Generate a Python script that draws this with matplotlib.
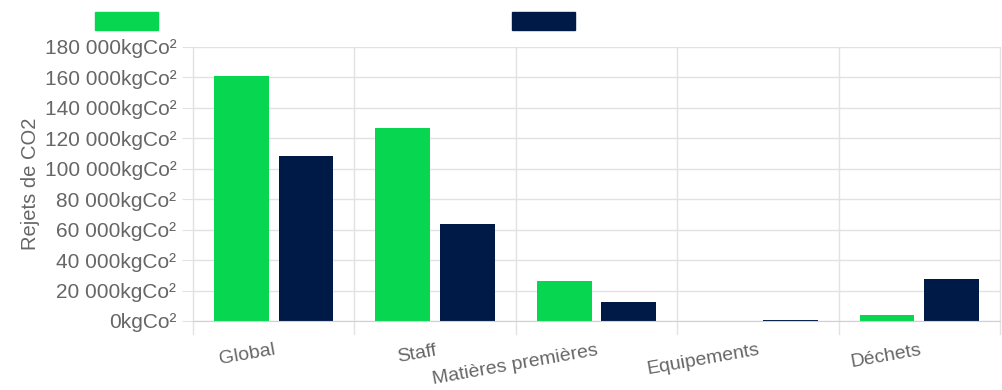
import matplotlib
matplotlib.use("Agg")
import matplotlib.pyplot as plt
import numpy as np
from matplotlib.patches import Rectangle
from matplotlib.ticker import FuncFormatter

categories = ["Global", "Staff", "Matières premières", "Equipements", "Déchets"]
serie_a = [160800, 126800, 26300, 100, 3900]
serie_b = [108400, 63800, 12500, 350, 27600]
yticks = list(range(0, 180001, 20000))

green = "#06d650"
navy = "#001a48"
grid_c = "#e2e2e2"
text_c = "#666666"

plt.rcParams["font.family"] = ["Liberation Sans", "DejaVu Sans"]

fig = plt.figure(figsize=(10.02, 3.9), dpi=100)
ax = fig.add_axes([193 / 1002, 1 - 321 / 390, 807 / 1002, 274 / 390])

x = np.arange(len(categories))
w = 0.34
ax.bar(x - 0.2, serie_a, w, color=green)
ax.bar(x + 0.2, serie_b, w, color=navy)

ax.set_xlim(-0.5, len(categories) - 0.5)
ax.set_ylim(0, 180000)
ax.set_yticks(yticks)
ax.yaxis.set_major_formatter(FuncFormatter(lambda v, p: f"{int(v):,}".replace(",", " ") + "kgCo²"))
ax.set_xticks(x)
ax.set_xticklabels(categories, rotation=10, color=text_c, fontsize=14,
                   ha="right", va="top", rotation_mode="anchor")
ax.tick_params(axis="x", length=0, pad=15)
ax.tick_params(axis="y", length=8, color=grid_c, labelcolor=text_c, labelsize=15, pad=4)

# gridlines between categories, running below the axis like the original
for b in np.arange(-0.5, len(categories), 1):
    ax.plot([b, b], [-12.5 / 274 * 180000, 180000], color=grid_c, lw=1, clip_on=False, zorder=0)
ax.yaxis.grid(True, color=grid_c, lw=1)
ax.set_axisbelow(True)
for s in ["top", "right", "left"]:
    ax.spines[s].set_visible(False)
ax.spines["bottom"].set_color("#d0d0d0")

ax.set_ylabel("Rejets de CO2", color=text_c, fontsize=14.5, labelpad=3)

# legend boxes (labels hidden in the original)
fig.patches.append(Rectangle((95 / 1002, 1 - 30 / 390), 63 / 1002, 18 / 390,
                             transform=fig.transFigure, color=green))
fig.patches.append(Rectangle((512 / 1002, 1 - 30 / 390), 63 / 1002, 18 / 390,
                             transform=fig.transFigure, color=navy))

fig.savefig("out.png", dpi=100)
